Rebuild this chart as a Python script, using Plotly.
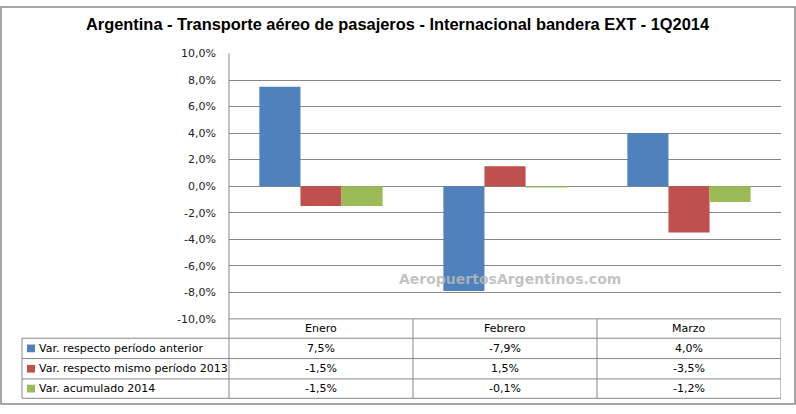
import plotly.graph_objects as go

W, H = 796, 414
categories = ["Enero", "Febrero", "Marzo"]
series_names = ["Var. respecto período anterior", "Var. respecto mismo período 2013", "Var. acumulado 2014"]
var_anterior = [7.5, -7.9, 4.0]
var_mismo_2013 = [-1.5, 1.5, -3.5]
var_acumulado = [-1.5, -0.1, -1.2]
series_values = [var_anterior, var_mismo_2013, var_acumulado]
colors = ["#4F81BD", "#C0504D", "#9BBB59"]
y_ticks = [-10, -8, -6, -4, -2, 0, 2, 4, 6, 8, 10]
y_tick_labels = ["-10,0%", "-8,0%", "-6,0%", "-4,0%", "-2,0%", "0,0%", "2,0%", "4,0%", "6,0%", "8,0%", "10,0%"]
title = "Argentina - Transporte aéreo de pasajeros - Internacional bandera EXT - 1Q2014"
watermark = "AeropuertosArgentinos.com"

def px(x):
    return x / W

def py(y):
    return 1 - y / H

GRID = "#878787"
plot_l, plot_r, plot_t, plot_b = 229, 781, 49, 323
row_lines = [343, 364, 385, 405]
table_left = 22
FONT = "DejaVu Sans"

fig = go.Figure()
for name, vals, col in zip(series_names, series_values, colors):
    fig.add_trace(go.Bar(x=categories, y=vals, name=name, marker=dict(color=col, line=dict(width=0)),
                         hoverinfo="skip"))

def fmt(v):
    return f"{v:.1f}".replace(".", ",") + "%"

shapes = []
annotations = []
line = dict(color=GRID, width=1)
shapes.append(dict(type="line", xref="paper", yref="paper", x0=px(plot_l), x1=px(plot_r), y0=py(plot_b), y1=py(plot_b), line=line))
for yl in row_lines:
    shapes.append(dict(type="line", xref="paper", yref="paper", x0=px(table_left), x1=px(plot_r), y0=py(yl), y1=py(yl), line=line))
shapes.append(dict(type="line", xref="paper", yref="paper", x0=px(table_left), x1=px(table_left), y0=py(row_lines[0]), y1=py(row_lines[-1]), line=line))
shapes.append(dict(type="line", xref="paper", yref="paper", x0=px(plot_l), x1=px(plot_l), y0=py(plot_t), y1=py(row_lines[-1]), line=line))
for i in range(len(categories)):
    xb = i + 0.5
    shapes.append(dict(type="line", xref="x", yref="paper", x0=xb, x1=xb, y0=py(plot_b), y1=py(row_lines[-1]), line=line))
shapes.append(dict(type="rect", xref="paper", yref="paper", x0=px(1), x1=px(795), y0=py(411), y1=py(1), line=dict(color="#8a8a8a", width=1.5)))

hdr_y = (plot_b + row_lines[0]) / 2
for c in categories:
    annotations.append(dict(x=c, xref="x", y=py(hdr_y), yref="paper", text=c, showarrow=False,
                            font=dict(family=FONT, size=11, color="#000"), xanchor="center", yanchor="middle"))
for r, (name, vals, col) in enumerate(zip(series_names, series_values, colors)):
    yc = (row_lines[r] + row_lines[r + 1]) / 2
    shapes.append(dict(type="rect", xref="paper", yref="paper", x0=px(27), x1=px(35), y0=py(yc + 4), y1=py(yc - 4),
                       fillcolor=col, line=dict(width=0)))
    annotations.append(dict(x=px(37), xref="paper", y=py(yc), yref="paper", text=name, showarrow=False,
                            font=dict(family=FONT, size=11, color="#000"), xanchor="left", yanchor="middle"))
    for c, v in zip(categories, vals):
        annotations.append(dict(x=c, xref="x", y=py(yc), yref="paper", text=fmt(v), showarrow=False,
                                font=dict(family=FONT, size=11, color="#000"), xanchor="center", yanchor="middle"))

annotations.append(dict(x=px(398), xref="paper", y=py(19), yref="paper", text="<b>" + title + "</b>", showarrow=False,
                        font=dict(family="Liberation Sans", size=16.4, color="#000"),
                        xanchor="center", yanchor="middle"))
annotations.append(dict(x=px(510), xref="paper", y=py(282), yref="paper", text="<b>" + watermark + "</b>", showarrow=False,
                        font=dict(family=FONT, size=14, color="rgba(185,185,185,0.85)"),
                        xanchor="center", yanchor="middle"))

fig.update_layout(
    width=W, height=H, margin=dict(l=0, r=0, t=0, b=0),
    paper_bgcolor="white", plot_bgcolor="white",
    barmode="group", bargap=0.33, bargroupgap=0,
    showlegend=False, hovermode=False,
    shapes=shapes, annotations=annotations,
    xaxis=dict(domain=[px(plot_l), px(plot_r)], range=[-0.5, 2.5], showticklabels=False, showgrid=False,
               zeroline=False, showline=False, ticks="", fixedrange=True),
    yaxis=dict(domain=[py(plot_b), py(plot_t)], range=[-10, 10], tickvals=y_ticks, ticktext=y_tick_labels,
               showgrid=True, gridcolor=GRID, gridwidth=1, zeroline=True, zerolinecolor=GRID, zerolinewidth=1,
               showline=False, ticks="", ticklabelstandoff=12, fixedrange=True,
               tickfont=dict(family=FONT, size=11, color="#222")),
)
fig.write_html("out.html", config={"displayModeBar": False, "staticPlot": True},
               post_script="document.body.style.margin='0';document.body.style.overflow='hidden';")
